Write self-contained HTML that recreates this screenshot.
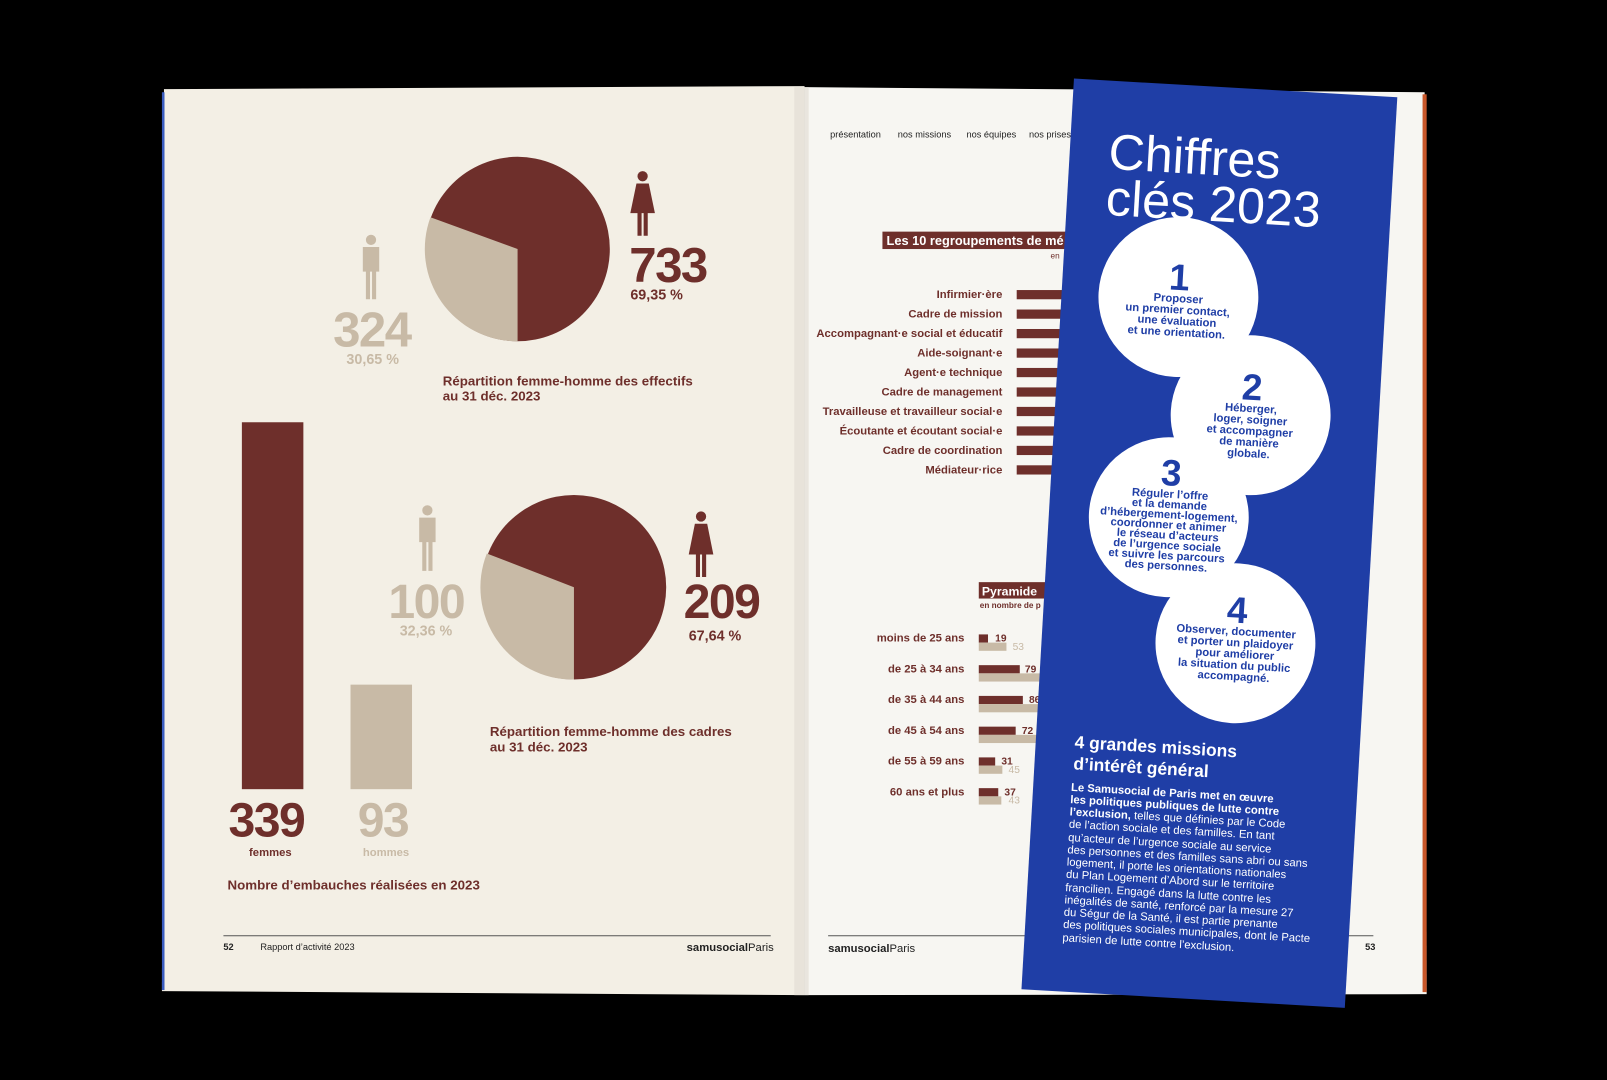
<!DOCTYPE html>
<html><head><meta charset="utf-8"><style>
html,body{margin:0;padding:0;background:#000;}
svg{display:block;}
text{font-family:"Liberation Sans",Arial,sans-serif;}
</style></head><body>
<svg width="1607" height="1080" viewBox="0 0 1607 1080" xmlns="http://www.w3.org/2000/svg">
<rect width="1607" height="1080" fill="#000"/>
<g transform="scale(1.0249)">
<!-- left page -->
<polygon points="160,87 785,84 785,971 158,967" fill="#f3efe5"/>
<rect x="158" y="90" width="2.5" height="876" fill="#3a5cc0"/>
<!-- right page -->
<polygon points="785,85 1390,90 1392,970 785,971" fill="#f7f6f2"/>
<rect x="1388" y="92" width="4" height="876" fill="#c8572a"/>
<rect x="775" y="85" width="14" height="886" fill="#e2ded6" opacity="0.7"/>

<g fill="#6e2f2b" font-weight="bold">
<!-- pie 1 -->
<circle cx="505" cy="243" r="90" fill="#6e2f2b"/>
<path d="M505,243 L505,333 A90,90 0 0 1 420,212 Z" fill="#c8baa6"/>
<g fill="#6e2f2b"><circle cx="627" cy="172" r="5"/><path d="M621,179 h12 l6,29 h-7 v22 h-4 v-22 h-2 v22 h-4 v-22 h-7 z"/></g>
<g fill="#c8baa6"><circle cx="362" cy="234" r="5"/><path d="M354,241 h16 v24 h-3 v27 h-4 v-27 h-2 v27 h-4 v-27 h-3 z"/></g>
<text x="614" y="275" font-size="48" letter-spacing="-1.5">733</text>
<text x="615" y="292" font-size="14">69,35 %</text>
<text x="325" y="338" font-size="48" fill="#c8baa6" letter-spacing="-1.5">324</text>
<text x="338" y="355" font-size="14" fill="#c8baa6">30,65 %</text>
<text x="432" y="376" font-size="13">Répartition femme-homme des effectifs</text>
<text x="432" y="391" font-size="13">au 31 déc. 2023</text>

<rect x="236" y="412" width="60" height="358" fill="#6e2f2b"/>
<rect x="342" y="668" width="60" height="102" fill="#c8baa6"/>
<text x="223" y="816" font-size="47" letter-spacing="-1.5">339</text>
<text x="243" y="835" font-size="11">femmes</text>
<text x="349" y="816" font-size="47" fill="#c8baa6" letter-spacing="-1.5">93</text>
<text x="354" y="835" font-size="11" fill="#c8baa6">hommes</text>
<text x="222" y="868" font-size="13">Nombre d’embauches réalisées en 2023</text>

<circle cx="560" cy="573" r="90" fill="#6e2f2b"/>
<path d="M560,573 L560,663 A90,90 0 0 1 475,540 Z" fill="#c8baa6"/>
<g fill="#c8baa6"><circle cx="417" cy="498" r="5"/><path d="M409,505 h16 v24 h-3 v28 h-4 v-28 h-2 v28 h-4 v-28 h-3 z"/></g>
<g fill="#6e2f2b"><circle cx="684" cy="504" r="5"/><path d="M678,511 h12 l6,30 h-7 v22 h-4 v-22 h-2 v22 h-4 v-22 h-7 z"/></g>
<text x="379" y="603" font-size="47" fill="#c8baa6" letter-spacing="-1.5">100</text>
<text x="390" y="620" font-size="14" fill="#c8baa6">32,36 %</text>
<text x="667" y="603" font-size="47" letter-spacing="-1.5">209</text>
<text x="672" y="625" font-size="14">67,64 %</text>
<text x="478" y="718" font-size="13">Répartition femme-homme des cadres</text>
<text x="478" y="733" font-size="13">au 31 déc. 2023</text>
</g>
<line x1="218" y1="913" x2="752" y2="913" stroke="#555" stroke-width="1"/>
<text x="218" y="927" font-size="9" fill="#222" font-weight="bold">52</text>
<text x="254" y="927" font-size="9" fill="#222">Rapport d’activité 2023</text>
<text x="670" y="928" font-size="11" fill="#222"><tspan font-weight="bold">samusocial</tspan>Paris</text>

<g font-size="9" fill="#222">
<text x="810" y="134">présentation</text><text x="876" y="134">nos missions</text><text x="943" y="134">nos équipes</text><text x="1004" y="134">nos prises</text>
</g>
<rect x="861" y="226" width="190" height="17" fill="#6e2f2b"/>
<text x="865" y="239" font-size="12.5" font-weight="bold" fill="#fff">Les 10 regroupements de mé</text>
<text x="1025" y="252" font-size="8" fill="#6e2f2b">en</text>
<g font-size="11" fill="#6e2f2b" font-weight="bold" text-anchor="end">
<text x="978" y="291">Infirmier·ère</text>
<text x="978" y="310">Cadre de mission</text>
<text x="978" y="329">Accompagnant·e social et éducatif</text>
<text x="978" y="348">Aide-soignant·e</text>
<text x="978" y="367">Agent·e technique</text>
<text x="978" y="386">Cadre de management</text>
<text x="978" y="405">Travailleuse et travailleur social·e</text>
<text x="978" y="424">Écoutante et écoutant social·e</text>
<text x="978" y="443">Cadre de coordination</text>
<text x="978" y="462">Médiateur·rice</text>
</g>
<g fill="#6e2f2b">
<rect x="992" y="283" width="60" height="9"/><rect x="992" y="302" width="60" height="9"/><rect x="992" y="321" width="60" height="9"/><rect x="992" y="340" width="60" height="9"/><rect x="992" y="359" width="60" height="9"/><rect x="992" y="378" width="60" height="9"/><rect x="992" y="397" width="60" height="9"/><rect x="992" y="416" width="60" height="9"/><rect x="992" y="435" width="60" height="9"/><rect x="992" y="454" width="60" height="9"/>
</g>
<rect x="955" y="568" width="80" height="16" fill="#6e2f2b"/>
<text x="958" y="581" font-size="12" font-weight="bold" fill="#fff">Pyramide</text>
<text x="956" y="593" font-size="8" fill="#6e2f2b" font-weight="bold">en nombre de p</text>
<g font-size="11" fill="#6e2f2b" font-weight="bold" text-anchor="end">
<text x="941" y="626">moins de 25 ans</text>
<text x="941" y="656">de 25 à 34 ans</text>
<text x="941" y="686">de 35 à 44 ans</text>
<text x="941" y="716">de 45 à 54 ans</text>
<text x="941" y="746">de 55 à 59 ans</text>
<text x="941" y="776">60 ans et plus</text>
</g>
<g fill="#6e2f2b">
<rect x="955" y="619" width="9" height="8"/><rect x="955" y="649" width="40" height="8"/><rect x="955" y="679" width="43" height="8"/><rect x="955" y="709" width="36" height="8"/><rect x="955" y="739" width="16" height="8"/><rect x="955" y="769" width="19" height="8"/>
</g>
<g fill="#c8baa6">
<rect x="955" y="627" width="27" height="8"/><rect x="955" y="657" width="70" height="8"/><rect x="955" y="687" width="70" height="8"/><rect x="955" y="717" width="70" height="8"/><rect x="955" y="747" width="23" height="8"/><rect x="955" y="777" width="22" height="8"/>
</g>
<g font-size="10" font-weight="bold" fill="#6e2f2b">
<text x="971" y="626">19</text><text x="1000" y="656">79</text><text x="1004" y="686">86</text><text x="997" y="716">72</text><text x="977" y="746">31</text><text x="980" y="776">37</text>
</g>
<g font-size="10" fill="#c8baa6"><text x="988" y="634">53</text><text x="984" y="754">45</text><text x="984" y="784">43</text></g>
<line x1="808" y1="913" x2="1340" y2="913" stroke="#555" stroke-width="1"/>
<text x="808" y="929" font-size="11" fill="#222"><tspan font-weight="bold">samusocial</tspan>Paris</text>
<text x="1332" y="927" font-size="9" font-weight="bold" fill="#222">53</text>

<g transform="rotate(3.3 1180 530)">
<rect x="1022" y="85" width="316" height="890" fill="#1f3ea6"/>
<g fill="#fff" font-size="49">
<text x="1060" y="171">Chiffres</text>
<text x="1060" y="216">clés 2023</text>
</g>
<circle cx="1136" cy="292" r="78" fill="#fff"/>
<circle cx="1213" cy="403" r="78" fill="#fff"/>
<circle cx="1139" cy="507" r="78" fill="#fff"/>
<circle cx="1211" cy="626" r="78" fill="#fff"/>
<g fill="#1f3ea6" font-weight="bold" text-anchor="middle" font-size="11">
<text x="1136" y="285" font-size="36">1</text>
<text x="1136" y="297">Proposer</text><text x="1136" y="308">un premier contact,</text><text x="1136" y="319">une évaluation</text><text x="1136" y="330">et une orientation.</text>
<text x="1213" y="388" font-size="36">2</text>
<text x="1213" y="400">Héberger,</text><text x="1213" y="411">loger, soigner</text><text x="1213" y="422">et accompagner</text><text x="1213" y="433">de manière</text><text x="1213" y="444">globale.</text>
<text x="1139" y="476" font-size="36">3</text>
<text x="1139" y="488">Réguler l’offre</text><text x="1139" y="498">et la demande</text><text x="1139" y="508">d’hébergement-logement,</text><text x="1139" y="518">coordonner et animer</text><text x="1139" y="528">le réseau d’acteurs</text><text x="1139" y="538">de l’urgence sociale</text><text x="1139" y="548">et suivre les parcours</text><text x="1139" y="558">des personnes.</text>
<text x="1211" y="606" font-size="36">4</text>
<text x="1211" y="618">Observer, documenter</text><text x="1211" y="629">et porter un plaidoyer</text><text x="1211" y="640">pour améliorer</text><text x="1211" y="651">la situation du public</text><text x="1211" y="662">accompagné.</text>
</g>
<g fill="#fff">
<text x="1060" y="737" font-size="17" font-weight="bold">4 grandes missions</text>
<text x="1060" y="758" font-size="17" font-weight="bold">d’intérêt général</text>
<g font-size="11">
<text x="1059" y="779" font-weight="bold">Le Samusocial de Paris met en œuvre</text>
<text x="1059" y="791" font-weight="bold">les politiques publiques de lutte contre</text>
<text x="1059" y="803"><tspan font-weight="bold">l’exclusion,</tspan> telles que définies par le Code</text>
<text x="1059" y="815">de l’action sociale et des familles. En tant</text>
<text x="1059" y="828">qu’acteur de l’urgence sociale au service</text>
<text x="1059" y="840">des personnes et des familles sans abri ou sans</text>
<text x="1059" y="852">logement, il porte les orientations nationales</text>
<text x="1059" y="864">du Plan Logement d’Abord sur le territoire</text>
<text x="1059" y="877">francilien. Engagé dans la lutte contre les</text>
<text x="1059" y="889">inégalités de santé, renforcé par la mesure 27</text>
<text x="1059" y="901">du Ségur de la Santé, il est partie prenante</text>
<text x="1059" y="913">des politiques sociales municipales, dont le Pacte</text>
<text x="1059" y="926">parisien de lutte contre l’exclusion.</text>
</g>
</g>
</g>
</g>
</svg>
</body></html>
